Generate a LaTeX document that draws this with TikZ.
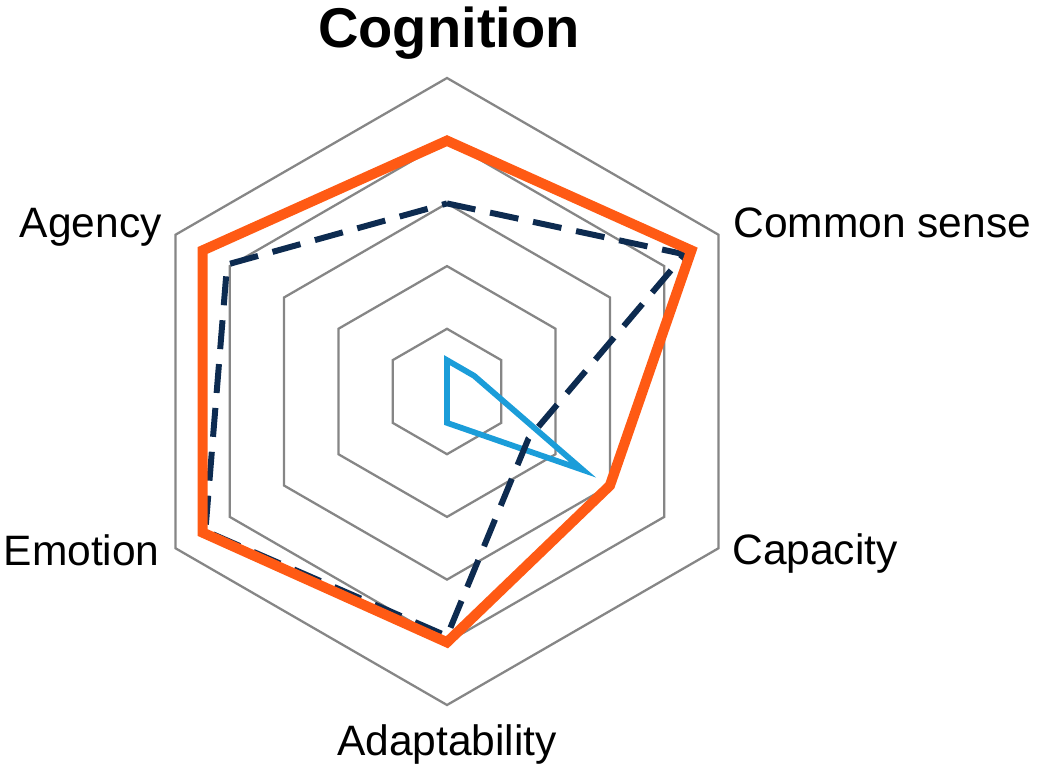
\documentclass[tikz,border=0pt]{standalone}
\usepackage{fontspec}
\setmainfont{Liberation Sans}
\usepackage{tikz}
\usetikzlibrary{calc}
\definecolor{gridgray}{HTML}{868686}
\definecolor{chartorange}{HTML}{FF5A14}
\definecolor{chartnavy}{HTML}{0D2B50}
\definecolor{chartcyan}{HTML}{1B9DD9}
\tikzset{>=latex}
\tikzstyle{hexgrid} = [draw=gridgray, line width=1.3pt]
\tikzstyle{axislabel} = [font=\fontsize{24.2pt}{29pt}\selectfont, inner sep=0pt]
\tikzstyle{titlelabel} = [font=\fontsize{31.9pt}{38pt}\selectfont\bfseries, inner sep=0pt]
\tikzstyle{modelA} = [draw=chartorange, line width=5.8pt, line join=miter]
\tikzstyle{modelB} = [draw=chartnavy, line width=3.4pt, dash pattern=on 0.58cm off 0.3cm]
\tikzstyle{modelC} = [draw=chartcyan, line width=3.3pt, line join=miter]
\newcommand{\chartR}{6.27}
\newcommand{\radarline}[7]{\draw[#1] (90:{#2*\chartR}) -- (30:{#3*\chartR}) -- (-30:{#4*\chartR}) -- (-90:{#5*\chartR}) -- (-150:{#6*\chartR}) -- (150:{#7*\chartR}) -- cycle;}

\begin{document}
\begin{tikzpicture}
\useasboundingbox (-8.94,-7.47) rectangle (11.82,7.83);
% hexagonal grid, five levels
\foreach \lvl in {0.2,0.4,0.6,0.8,1.0}
  \draw [hexgrid] (90:{\lvl*\chartR}) -- (30:{\lvl*\chartR}) -- (-30:{\lvl*\chartR}) -- (-90:{\lvl*\chartR}) -- (-150:{\lvl*\chartR}) -- (150:{\lvl*\chartR}) -- cycle;
% series
\radarline{modelC}{0.1}{0.1}{0.5}{0.1}{0}{0}
\radarline{modelB}{0.6}{0.875}{0.3}{0.78}{0.89}{0.81}
\radarline{modelA}{0.8}{0.9}{0.6}{0.8}{0.9}{0.9}
% labels
\node [titlelabel, anchor=base] (cognition) at (0.04, 6.87) {Cognition};
\node [axislabel, anchor=base west] (commonsense) at (5.72, 3.07) {Common sense};
\node [axislabel, anchor=base west] (capacity) at (5.70, -3.45) {Capacity};
\node [axislabel, anchor=base] (adaptability) at (0, -7.27) {Adaptability};
\node [axislabel, anchor=base east] (emotion) at (-5.74, -3.47) {Emotion};
\node [axislabel, anchor=base east] (agency) at (-5.70, 3.07) {Agency};
\end{tikzpicture}
\end{document}
